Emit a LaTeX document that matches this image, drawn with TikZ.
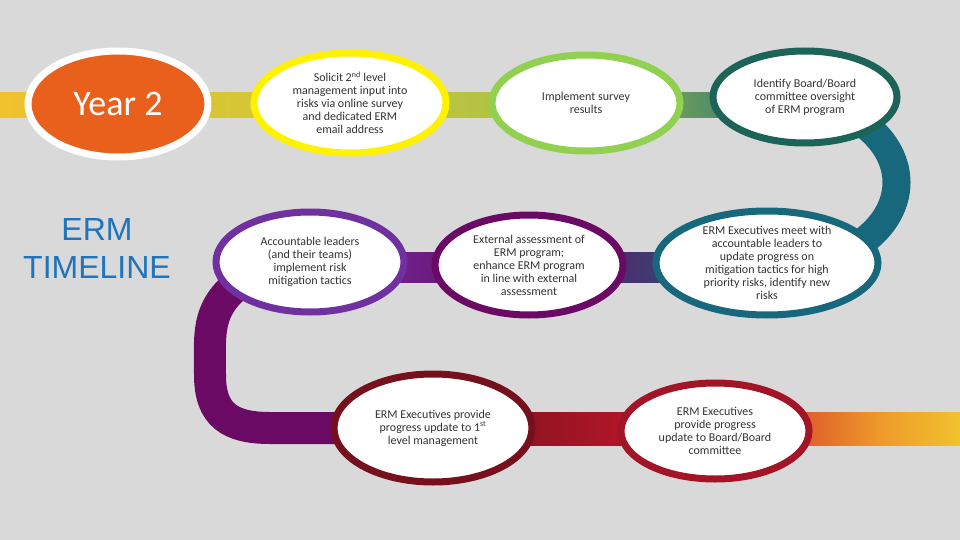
\documentclass[tikz,border=0pt]{standalone}
\usepackage{fontspec}
\setmainfont{Carlito}
\newfontfamily\arialf{Liberation Sans}
\usetikzlibrary{shapes.geometric}
\definecolor{bg}{HTML}{D9D9D9}
\definecolor{cOrange}{HTML}{E8601C}
\definecolor{cYellow}{HTML}{FFF200}
\definecolor{cLGreen}{HTML}{92D050}
\definecolor{cDTeal}{HTML}{1C6457}
\definecolor{cPurple}{HTML}{7030A0}
\definecolor{cDPurple}{HTML}{6A0A64}
\definecolor{cTeal}{HTML}{17687C}
\definecolor{cDRed}{HTML}{75101C}
\definecolor{cRed}{HTML}{A31427}
\definecolor{cBlue}{HTML}{1F74BE}
\definecolor{bYel}{HTML}{F2C12E}
\definecolor{bOlive}{HTML}{C8C83A}
\definecolor{bGreen}{HTML}{A4BE4A}
\definecolor{bRed}{HTML}{CC1A2E}
\definecolor{bOr}{HTML}{EE9A2A}
\tikzset{
  stage/.style={ellipse, fill=white, line width=7pt, inner sep=0pt, align=center,
    font=\fontsize{12}{13}\selectfont, text=black!80},
}
\begin{document}
\begin{tikzpicture}[x=1pt,y=-1pt]
\fill[bg] (0,0) rectangle (960,540);
\useasboundingbox (0,0) rectangle (960,540);
% bands
\shade[left color=bYel, right color=bOlive] (0,93) rectangle (350,118);
\shade[left color=bOlive, right color=bGreen] (350,93) rectangle (590,118);
\shade[left color=bGreen, right color=cTeal] (590,93) rectangle (805,118);
\draw[cTeal, line width=28pt] (850,115) .. controls (912,150) and (912,215) .. (850,250);
\shade[left color=cPurple, right color=cDPurple] (310,252) rectangle (530,282);
\shade[left color=cDPurple, right color=cTeal] (530,252) rectangle (767,282);
\draw[cDPurple, line width=32pt] (250,275) .. controls (205,305) and (210,330) .. (210,375)
   .. controls (210,415) and (230,428) .. (270,428) -- (440,428);
\shade[left color=cDRed, right color=bRed] (433,412) rectangle (715,445);
\shade[left color=bRed, right color=bOr] (715,412) rectangle (880,445);
\shade[left color=bOr, right color=bYel] (880,412) rectangle (960,445);
% stages
\node[stage, draw=white, fill=cOrange, minimum width=180pt, minimum height=106pt, text=white,
  font=\fontsize{36}{40}\selectfont] (y2) at (118,104) {Year 2};
\node[text=cBlue, align=center, font=\arialf\fontsize{32}{38}\selectfont] (tl) at (97,248) {ERM\\TIMELINE};
\node[stage, draw=cYellow, minimum width=192pt, minimum height=100pt] (s1) at (350,103)
  {Solicit 2\textsuperscript{nd} level\\management input into\\risks via online survey\\and dedicated ERM\\email address};
\node[stage, draw=cLGreen, minimum width=188pt, minimum height=96pt] (s2) at (586,103)
  {Implement survey\\results};
\node[stage, draw=cDTeal, minimum width=184pt, minimum height=92pt] (s3) at (805,97)
  {Identify Board/Board\\committee oversight\\of ERM program};
\node[stage, draw=cTeal, minimum width=222pt, minimum height=104pt] (s4) at (767,263)
  {ERM Executives meet with\\accountable leaders to\\update progress on\\mitigation tactics for high\\priority risks, identify new\\risks};
\node[stage, draw=cDPurple, minimum width=188pt, minimum height=100pt] (s5) at (529,265)
  {External assessment of\\ERM program;\\enhance ERM program\\in line with external\\assessment};
\node[stage, draw=cPurple, minimum width=188pt, minimum height=100pt] (s6) at (310,262)
  {Accountable leaders\\(and their teams)\\implement risk\\mitigation tactics};
\node[stage, draw=cDRed, minimum width=198pt, minimum height=108pt] (s7) at (433,428)
  {ERM Executives provide\\progress update to 1\textsuperscript{st}\\level management};
\node[stage, draw=cRed, minimum width=188pt, minimum height=96pt] (s8) at (715,431)
  {ERM Executives\\provide progress\\update to Board/Board\\committee};
\end{tikzpicture}
\end{document}
